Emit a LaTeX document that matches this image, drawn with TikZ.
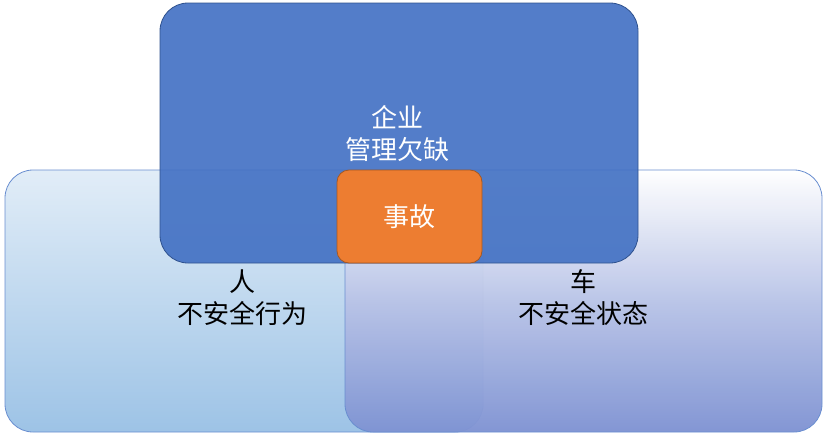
\documentclass[tikz,border=0pt]{standalone}
\usepackage{fontspec}
\newfontfamily\cjk{Noto Sans CJK SC}
\begin{document}
\begin{tikzpicture}[x=1pt,y=-1pt,
  zone/.style={rounded corners=28pt,line width=0.8pt},
  lbl/.style={font=\cjk\fontsize{26}{32}\selectfont,align=center}]
\definecolor{topb}{HTML}{4472C4}
\definecolor{tope}{HTML}{2F528F}
\definecolor{leftb}{HTML}{9DC3E6}
\definecolor{rightb}{HTML}{7F93D3}
\definecolor{orng}{HTML}{ED7D31}
\useasboundingbox (0,0) rectangle (829,437);
\path[zone,draw=topb!80,top color=leftb!30,bottom color=leftb] (5,170) rectangle (483,432);
\path[zone,draw=topb!80,top color=white,bottom color=rightb,middle color=rightb!55,fill opacity=0.97] (345,170) rectangle (822,432);
\path[zone,draw=tope,fill=topb,fill opacity=0.92] (160,3) rectangle (638,263);
\node[draw=orng!70!black,fill=orng,rounded corners=12pt,minimum width=145pt,minimum height=93pt,line width=0.8pt] (acc) at (409.5,216.5) {};
\node[lbl,text=white] (top) at (397,134) {企业\\管理欠缺};
\node[lbl,text=white] (a) at (acc) {事故};
\node[lbl] (p) at (242,298) {人\\不安全行为};
\node[lbl] (c) at (583,298) {车\\不安全状态};
\end{tikzpicture}
\end{document}
